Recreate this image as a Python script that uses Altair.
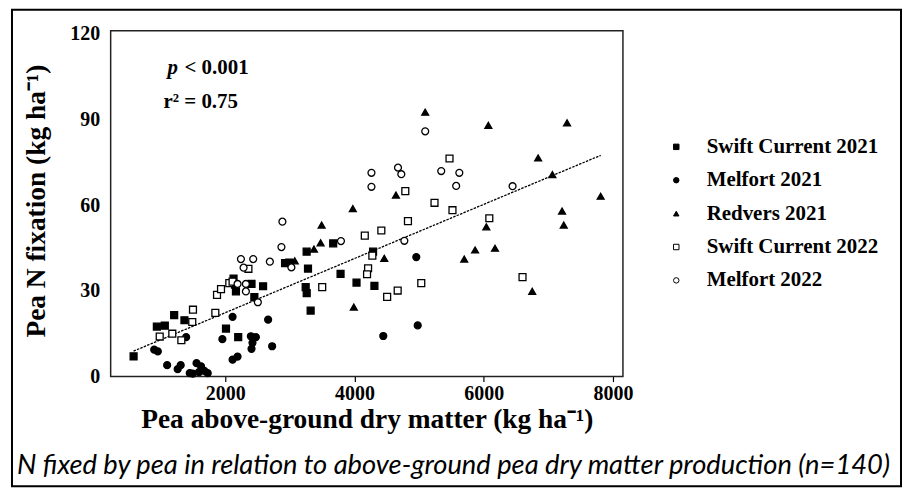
import altair as alt
import pandas as pd

# ---------------- data ----------------
sites = ["Swift Current 2021", "Melfort 2021", "Redvers 2021",
         "Swift Current 2022", "Melfort 2022"]

sc21_x = [581, 941, 1064, 1209, 1368, 2011, 2200, 2128, 2150, 2165, 2406, 2585, 2450,
          2925, 2990, 3259, 3280, 3244, 3260, 3321, 3670, 3784, 4031, 4308, 4287]
sc21_y = [7.1, 17.5, 17.8, 21.5, 19.7, 16.8, 13.8, 34.3, 32.2, 29.8, 32.4, 31.6, 27.8,
          39.7, 39.9, 43.7, 37.8, 31.3, 29.2, 23.1, 46.6, 35.9, 32.9, 31.7, 43.7]

m21_x = [900, 956, 1394, 1100, 1263, 1310, 1450, 1497, 1555, 1594, 1625, 1676, 1728,
         2113, 2663, 1955, 2396, 2473, 2421, 2406, 2725, 2113, 2190, 4445, 4956, 4978]
m21_y = [9.4, 8.8, 13.8, 4.0, 2.6, 4.0, 1.2, 1.0, 4.7, 1.6, 3.6, 2.0, 1.2,
         20.9, 19.9, 13.1, 14.1, 13.8, 11.8, 9.7, 10.6, 5.9, 7.0, 14.2, 41.8, 17.9]

r21_x = [5094, 6071, 7289, 6842, 7062, 7809, 7212, 7238, 4641, 6040, 5866, 6174,
         5698, 4460, 6750, 3974, 3491, 3475, 3372, 3989, 3075]
r21_y = [92.5, 87.9, 88.8, 76.5, 70.7, 63.1, 57.9, 53.0, 63.5, 52.4, 44.3, 44.9,
         41.1, 41.4, 29.8, 58.8, 53.0, 46.8, 44.6, 24.3, 40.5]

sc22_x = [1500, 1489, 985, 1180, 1320, 1846, 1872, 1934, 2062, 2113, 2358, 3500, 4159,
          4415, 4276, 4210, 4194, 5470, 4786, 5238, 5516, 4827, 6086, 5033, 4668, 4505, 6600]
sc22_y = [23.4, 19.1, 14.0, 15.0, 12.7, 22.3, 28.6, 30.6, 32.7, 33.2, 37.7, 31.3, 49.3,
          51.1, 42.3, 37.9, 35.8, 76.3, 64.9, 60.8, 58.2, 54.4, 55.4, 32.7, 30.1, 27.9, 34.8]

m22_x = [2884, 2869, 2242, 2432, 2283, 2690, 3023, 3790, 2190, 2319, 2319, 2504,
         4262, 4262, 4673, 4724, 5342, 5622, 5573, 4771, 5094, 6446]
m22_y = [54.2, 45.3, 41.1, 41.1, 38.1, 40.2, 38.2, 47.4, 32.4, 32.4, 29.8, 26.0,
         71.3, 66.4, 73.1, 70.8, 71.9, 71.3, 66.7, 47.5, 85.8, 66.6]

fit_x = [580, 7810]
fit_y = [8.9, 77.4]

x_ticks = [2000, 4000, 6000, 8000]
y_ticks = [0, 30, 60, 90, 120]

x_title = "Pea above-ground dry matter (kg ha\u207b\u00b9)"
y_title = "Pea N fixation (kg ha\u207b\u00b9)"
p_label = ["p"]
p_rest = ["< 0.001"]
r_label = ["r\u00b2 = 0.75"]
caption = ["N fixed by pea in relation to above-ground pea dry matter production (n=140)"]

# ---------------- build table ----------------
rows = []
for name, xs, ys in zip(sites, [sc21_x, m21_x, r21_x, sc22_x, m22_x],
                        [sc21_y, m21_y, r21_y, sc22_y, m22_y]):
    for a, b in zip(xs, ys):
        rows.append({"Site": name, "DM": a, "N": b})
df = pd.DataFrame(rows)
fit_df = pd.DataFrame({"DM": fit_x, "N": fit_y})

SERIF = "Liberation Serif"
W, H = 514, 347

x_scale = alt.Scale(domain=[226, 8154], nice=False, zero=False)
y_scale = alt.Scale(domain=[0, 121], nice=False, zero=False)

legend = alt.Legend(
    title=None, orient="none", legendX=557, legendY=106,
    labelFont=SERIF, labelFontWeight="bold", labelFontSize=21, labelColor="black",
    labelLimit=0,
    symbolSize=30, symbolStrokeWidth=1,
    rowPadding=11.5, labelOffset=20, padding=0, offset=0,
)

points = alt.Chart(df).mark_point(size=48, strokeWidth=1.3, opacity=1).encode(
    x=alt.X("DM:Q", scale=x_scale, axis=alt.Axis(
        values=x_ticks, format="d", title=x_title, grid=False, domain=False,
        tickSize=5, tickColor="black", tickWidth=1.2, labelPadding=2,
        labelFont=SERIF, labelFontWeight="bold", labelFontSize=20, labelColor="black",
        titleFont=SERIF, titleFontWeight="bold", titleFontSize=27.5, titleColor="black",
        titleX=W / 2, titleY=43, titleBaseline="middle", titleAlign="center")),
    y=alt.Y("N:Q", scale=y_scale, axis=alt.Axis(
        values=y_ticks, format="d", title=y_title, grid=False, domain=False, ticks=False,
        tickSize=0, labelPadding=11,
        labelFont=SERIF, labelFontWeight="bold", labelFontSize=20, labelColor="black",
        titleFont=SERIF, titleFontWeight="bold", titleFontSize=27.5, titleColor="black",
        titleX=-74, titleY=H / 2 - 3, titleAngle=-90, titleBaseline="middle", titleAlign="center")),
    shape=alt.Shape("Site:N", scale=alt.Scale(
        domain=sites, range=["square", "circle", "triangle-up", "square", "circle"]), legend=legend),
    fill=alt.Fill("Site:N", scale=alt.Scale(
        domain=sites, range=["black", "black", "black", "white", "white"]), legend=legend),
    stroke=alt.Stroke("Site:N", scale=alt.Scale(
        domain=sites, range=["black", "black", "black", "black", "black"]), legend=legend),
)

fit = alt.Chart(fit_df).mark_line(color="black", strokeWidth=1.3, strokeDash=[2.5, 1.2]).encode(
    x=alt.X("DM:Q", scale=x_scale), y=alt.Y("N:Q", scale=y_scale))

p_txt = alt.Chart(pd.DataFrame({"t": p_label})).mark_text(
    font=SERIF, fontWeight="bold", fontStyle="italic", fontSize=21, align="left",
    baseline="middle", color="black").encode(
    text="t:N", x=alt.value(57), y=alt.value(37))
p_rest_txt = alt.Chart(pd.DataFrame({"t": p_rest})).mark_text(
    font=SERIF, fontWeight="bold", fontSize=21, align="left",
    baseline="middle", color="black").encode(
    text="t:N", x=alt.value(74), y=alt.value(37))
r_txt = alt.Chart(pd.DataFrame({"t": r_label})).mark_text(
    font=SERIF, fontWeight="bold", fontSize=21, align="left",
    baseline="middle", color="black").encode(
    text="t:N", x=alt.value(53), y=alt.value(72))

cap_txt = alt.Chart(pd.DataFrame({"t": caption})).mark_text(
    font="Lato", fontStyle="italic", fontSize=27.4, align="center",
    baseline="middle", color="black").encode(
    text="t:N", x=alt.value(344), y=alt.value(437))

border = alt.Chart(pd.DataFrame({"t": [0]})).mark_rect(
    filled=False, stroke="black", strokeWidth=2).encode(
    x=alt.value(-99), x2=alt.value(793), y=alt.value(-21), y2=alt.value(457))

chart = alt.layer(border, fit, points, p_txt, p_rest_txt, r_txt, cap_txt).properties(
    width=W, height=H,
    autosize=alt.AutoSizeParams(type="none"),
    padding={"left": 103, "top": 22, "right": 280, "bottom": 111},
    background="white",
).configure_view(stroke="#222", strokeWidth=1.5)

chart.save("out.html", embed_options={"renderer": "svg", "actions": False})
